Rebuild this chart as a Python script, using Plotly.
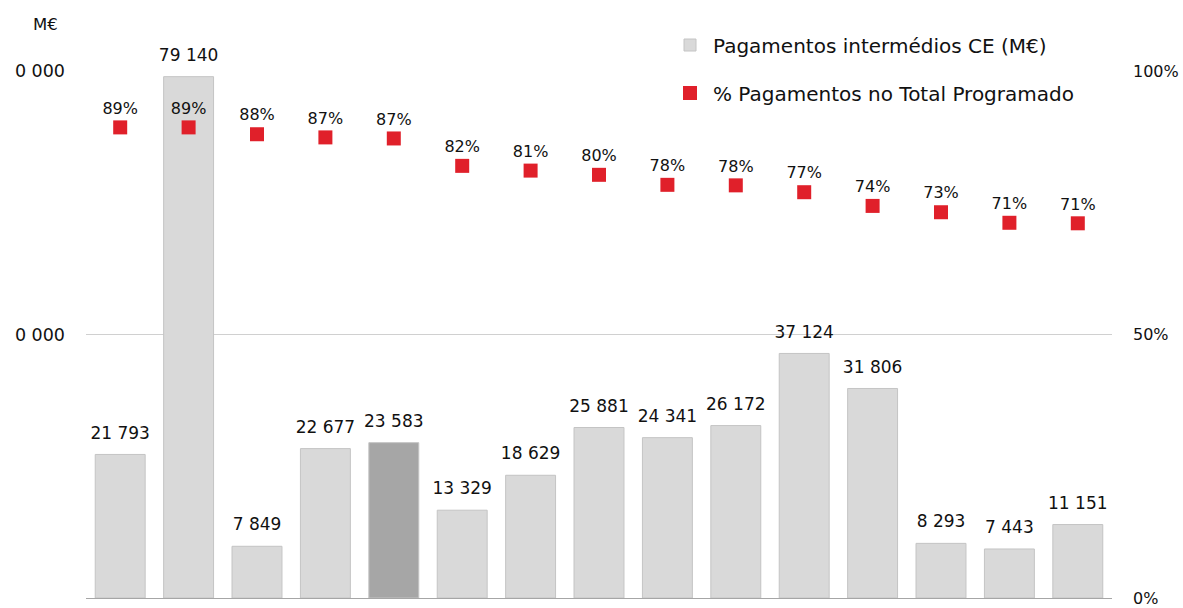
import plotly.graph_objects as go

categories = [f"C{i}" for i in range(1, 16)]
pagamentos = [21793, 79140, 7849, 22677, 23583, 13329, 18629, 25881, 24341, 26172, 37124, 31806, 8293, 7443, 11151]
pct_total = [0.893, 0.893, 0.880, 0.874, 0.872, 0.820, 0.811, 0.803, 0.784, 0.783, 0.770, 0.744, 0.732, 0.712, 0.711]
left_tickvals = [0, 40000, 80000]
left_ticktext = ["0", "0 000", "0 000"]
right_tickvals = [0, 0.5, 1.0]
right_ticktext = ["0%", "50%", "100%"]
highlight_index = 4

FONT = "DejaVu Sans"
W, H = 1183, 608
# target plot area on screen (page body margin removed below)
PL, PR, PT, PB = 86, 1112, 71, 598
L, T, R, B = PL, PT, W - PR, H - PB
pw, ph = PR - PL, PB - PT

def px_x(x):
    return (x - PL) / pw

def px_y(y):
    return (PB - y) / ph

bar_colors = ["#A6A6A6" if i == highlight_index else "#D9D9D9" for i in range(len(pagamentos))]
bar_text = [f"{v:,}".replace(",", " ") for v in pagamentos]

fig = go.Figure()
fig.add_trace(go.Bar(
    x=categories, y=pagamentos, name="Pagamentos intermédios CE (M€)",
    marker=dict(color=bar_colors, line=dict(color="#C4C4C4", width=1)),
    legend="legend", hoverinfo="skip",
))
fig.add_trace(go.Scatter(
    x=categories, y=pagamentos, mode="markers+text", showlegend=False,
    marker=dict(size=17, opacity=0),
    text=bar_text, textposition="top center", cliponaxis=False,
    textfont=dict(family=FONT, size=17, color="#111111"),
    hoverinfo="skip",
))
fig.add_trace(go.Scatter(
    x=categories, y=pct_total, yaxis="y2", mode="markers+text",
    name="% Pagamentos no Total Programado",
    marker=dict(symbol="square", size=14, color="#E0202A"),
    text=[f"{round(v*100)}%" for v in pct_total], textposition="top center",
    textfont=dict(family=FONT, size=16, color="#111111"),
    cliponaxis=False,
    legend="legend2",
))

fig.update_layout(
    width=W, height=H,
    margin=dict(l=L, r=R, t=T, b=B, autoexpand=False),
    paper_bgcolor="white", plot_bgcolor="white",
    bargap=0.27,
    font=dict(family=FONT, size=17, color="#111111"),
    xaxis=dict(range=[-0.5, len(categories) - 0.5], showticklabels=False, showgrid=False,
               ticks="", showline=True, linecolor="#A6A6A6", linewidth=1, zeroline=False),
    yaxis=dict(range=[0, 80000], tickvals=left_tickvals, ticktext=left_ticktext,
               showgrid=True, gridcolor="#D0D0D0", gridwidth=1, zeroline=False,
               ticks="", ticklabelstandoff=20, tickfont=dict(size=17.5)),
    yaxis2=dict(range=[0, 1], overlaying="y", side="right", tickvals=right_tickvals,
                ticktext=right_ticktext, showgrid=False, zeroline=False, ticks="",
                ticklabelstandoff=20, tickfont=dict(size=16)),
    legend=dict(x=px_x(667), y=px_y(45), xanchor="left", yanchor="middle", itemwidth=36,
                font=dict(size=20), bgcolor="rgba(0,0,0,0)"),
    legend2=dict(x=px_x(667), y=px_y(93), xanchor="left", yanchor="middle", itemwidth=36,
                 font=dict(size=20), bgcolor="rgba(0,0,0,0)"),
    showlegend=True,
    annotations=[dict(text="M€", x=px_x(45), y=px_y(25), xref="paper", yref="paper",
                      showarrow=False, font=dict(size=16.5), xanchor="center", yanchor="middle")],
)

fig.write_html("out.html", config={"displayModeBar": False},
               post_script="document.body.style.margin='0';document.body.style.overflow='hidden';")
